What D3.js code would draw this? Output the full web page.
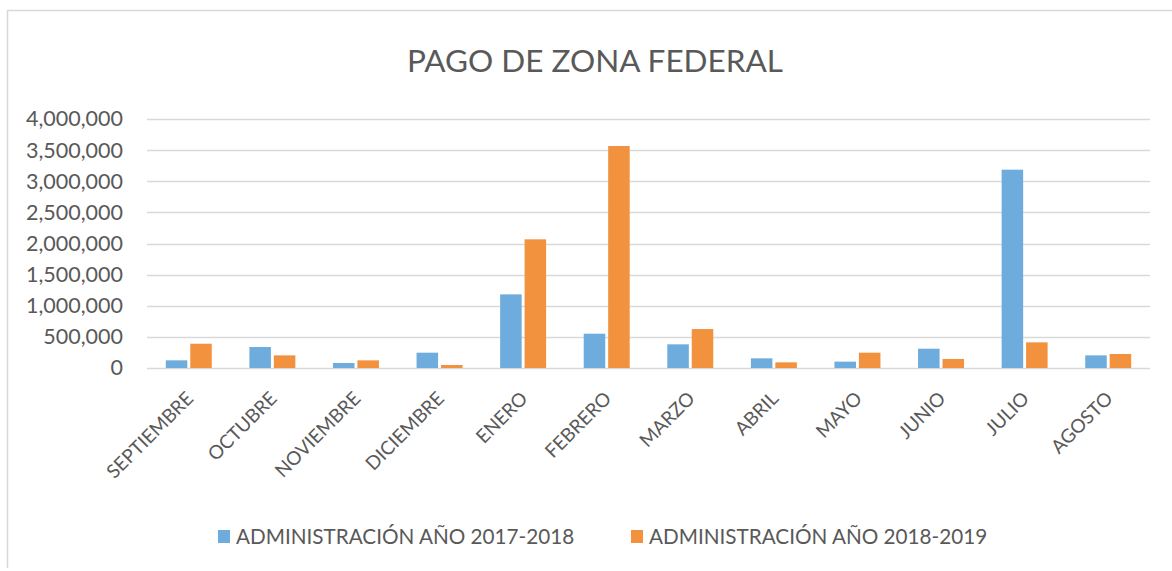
<!DOCTYPE html>
<html>
<head>
<meta charset="utf-8">
<script src="https://cdn.jsdelivr.net/npm/d3@7"></script>
<style>
  body { margin: 0; background: #fff; }
  text { font-family: Lato, "Open Sans", sans-serif; fill: #595959; }
</style>
</head>
<body>
<div id="chart"></div>
<script>
var months = ["SEPTIEMBRE", "OCTUBRE", "NOVIEMBRE", "DICIEMBRE", "ENERO", "FEBRERO",
  "MARZO", "ABRIL", "MAYO", "JUNIO", "JULIO", "AGOSTO"];
var seriesNames = ["ADMINISTRACIÓN AÑO 2017-2018", "ADMINISTRACIÓN AÑO 2018-2019"];
var admin2017 = [123000, 337000, 80000, 246000, 1183000, 551000, 380000, 155000, 102000, 310000, 3186000, 203000];
var admin2018 = [390000, 203000, 123000, 48000, 2067000, 3566000, 626000, 91000, 246000, 145000, 412000, 225000];
var yTicks = [0, 500000, 1000000, 1500000, 2000000, 2500000, 3000000, 3500000, 4000000];
var colors = ["#6EACDD", "#F2923F"];

var svgWidth = 1172;
var svgHeight = 571;
var margin = { top: 119, right: 22, bottom: 203, left: 147 };
var width = 1150 - margin.left;
var height = 368 - margin.top;

var svg = d3.select("#chart")
  .append("svg")
  .attr("width", svgWidth)
  .attr("height", svgHeight);

// chart area border (right edge falls outside the picture)
svg.append("path")
  .attr("d", "M7.5,568 V10.5 H1172")
  .attr("fill", "none")
  .attr("stroke", "#d9d9d9")
  .attr("stroke-width", 1.5);

svg.append("text")
  .attr("x", 595)
  .attr("y", 72)
  .attr("text-anchor", "middle")
  .style("font-size", "31.5px")
  .text("PAGO DE ZONA FEDERAL");

var chartGroup = svg.append("g")
  .attr("transform", `translate(${margin.left}, ${margin.top})`);

var x0 = d3.scaleBand()
  .domain(months)
  .range([0, width])
  .paddingInner(0.45)
  .paddingOuter(0.225);

var x1 = d3.scaleBand()
  .domain([0, 1])
  .range([0, x0.bandwidth()])
  .paddingInner(0.12);

var y = d3.scaleLinear()
  .domain([0, 4000000])
  .range([height, 0]);

// gridlines
chartGroup.append("g")
  .selectAll("line")
  .data(yTicks)
  .enter()
  .append("line")
  .attr("x1", 0)
  .attr("x2", width)
  .attr("y1", d => Math.round(y(d)) + 0.5)
  .attr("y2", d => Math.round(y(d)) + 0.5)
  .attr("stroke", "#d9d9d9")
  .attr("stroke-width", 1.5);

var leftAxis = d3.axisLeft(y)
  .tickValues(yTicks)
  .tickFormat(d3.format(","))
  .tickSize(0)
  .tickPadding(24);

chartGroup.append("g")
  .call(leftAxis)
  .call(g => g.select(".domain").remove())
  .selectAll("text")
  .style("font-size", "21.5px")
  .style("fill", "#595959");

var bottomAxis = d3.axisBottom(x0).tickSize(0).tickPadding(0);

chartGroup.append("g")
  .attr("transform", `translate(0, ${height})`)
  .call(bottomAxis)
  .call(g => g.select(".domain").remove())
  .selectAll("text")
  .style("font-size", "19px")
  .style("fill", "#595959")
  .attr("text-anchor", "end")
  .attr("dy", "0.35em")
  .attr("transform", "translate(1, 27) rotate(-45)");

var groups = chartGroup.selectAll("g.month")
  .data(months.map((m, i) => ({ month: m, values: [admin2017[i], admin2018[i]] })))
  .enter()
  .append("g")
  .attr("class", "month")
  .attr("transform", d => `translate(${x0(d.month)}, 0)`);

groups.selectAll("rect")
  .data(d => d.values)
  .enter()
  .append("rect")
  .attr("x", (d, i) => x1(i))
  .attr("y", d => y(d))
  .attr("width", x1.bandwidth())
  .attr("height", d => height - y(d))
  .attr("fill", (d, i) => colors[i]);

// legend
var legendX = [218, 631];
var legend = svg.selectAll("g.legend")
  .data(seriesNames)
  .enter()
  .append("g")
  .attr("class", "legend")
  .attr("transform", (d, i) => `translate(${legendX[i]}, 537)`);

legend.append("rect")
  .attr("x", 0)
  .attr("y", -7)
  .attr("width", 12)
  .attr("height", 13)
  .attr("fill", (d, i) => colors[i]);

legend.append("text")
  .attr("x", 18)
  .attr("y", 0)
  .attr("dy", "0.35em")
  .style("font-size", "20.7px")
  .text(d => d);
</script>
</body>
</html>
